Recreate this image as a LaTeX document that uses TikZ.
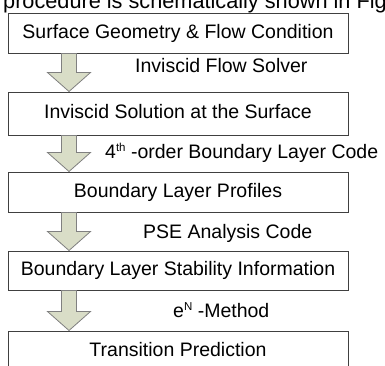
\documentclass[tikz,border=0pt]{standalone}
\usepackage{fontspec}
\setmainfont{Liberation Sans}
\usepackage{tikz}
\usetikzlibrary{calc, positioning}

\definecolor{arrowfill}{RGB}{217,221,199}
\definecolor{arrowline}{RGB}{128,128,128}
\definecolor{boxline}{RGB}{64,64,64}

\newcommand{\smallsup}[1]{\raisebox{6.5pt}{\fontsize{11.5}{12}\selectfont #1}}

\tikzset{
	stage/.style={draw=boxline, line width=1pt, minimum width=340pt, minimum height=40pt,
		inner sep=0pt, text height=14pt, text depth=4pt, font=\fontsize{19.5}{23}\selectfont},
	note/.style={anchor=base west, inner sep=0pt, font=\fontsize{19.5}{23}\selectfont},
	blockarrow/.style={fill=arrowfill, draw=arrowline, line width=0.8pt, line join=miter}
}

\begin{document}
\begin{tikzpicture}[x=1pt, y=-1pt]
		
		\useasboundingbox (0,0) rectangle (385,365);
		
		% Running text above the figure
		\node[note, font=\fontsize{21.7}{26}\selectfont] (cap) at (3,8) {procedure is schematically shown in Fig};
		
		% Stages
		\node[stage] (b1) at (178,33) {Surface Geometry \& Flow Condition};
		\node[stage, minimum height=43pt] (b2) at (178,113.5) {Inviscid Solution at the Surface};
		\node[stage] (b3) at (178,192) {Boundary Layer Profiles};
		\node[stage, minimum height=39pt] (b4) at (178,270.5) {Boundary Layer Stability Information};
		\node[stage] (b5) at (178,351) {Transition Prediction};
		
		% Tools between the stages
		\node[note] (l1) at (135,72) {Inviscid Flow Solver};
		\node[note] (l2) at (105,158) {4\smallsup{th} -order Boundary Layer Code};
		\node[note] (l3) at (143,238) {PSE Analysis Code};
		\node[note] (l4) at (173,317) {e\smallsup{N} -Method};
		
		% Block arrows
		\foreach \a/\b in {b1/b2, b2/b3, b3/b4, b4/b5} {
			\draw[blockarrow]
			($(\a.south west)+(54,0)$) -- ($(\a.south west)+(69,0)$)
			-- ($(\b.north west)+(69,-19)$) -- ($(\b.north west)+(83,-19)$)
			-- ($(\b.north west)+(61.5,0)$)
			-- ($(\b.north west)+(40,-19)$) -- ($(\b.north west)+(54,-19)$) -- cycle;
		}
		
	\end{tikzpicture}
\end{document}
